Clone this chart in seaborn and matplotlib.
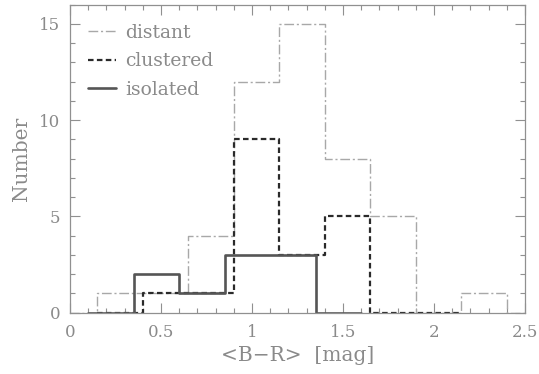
import numpy as np
import pandas as pd
import matplotlib
matplotlib.use("Agg")
import matplotlib.pyplot as plt
import seaborn as sns
from matplotlib.ticker import MultipleLocator
from matplotlib.lines import Line2D

# Data (bin edges and counts)
distant_edges = [-0.10, 0.15, 0.40, 0.65, 0.90, 1.15, 1.40, 1.65, 1.90, 2.15, 2.40, 2.65]
distant_counts = [0, 1, 1, 4, 12, 15, 8, 5, 0, 1, 0]

clustered_edges = [0.15, 0.40, 0.65, 0.90, 1.15, 1.40, 1.65, 1.90, 2.15]
clustered_counts = [0, 1, 1, 9, 3, 5, 0, 0]

isolated_edges = [0.10, 0.35, 0.60, 0.85, 1.10, 1.35, 1.60]
isolated_counts = [0, 2, 1, 3, 3, 0]

labels = ["distant", "clustered", "isolated"]

sns.set_theme(style="white")
plt.rcParams['font.family'] = ['DejaVu Serif']

fig = plt.figure(figsize=(5.39, 3.74), dpi=100)
ax = fig.add_axes([0.1299, 0.164, 0.8442, 0.8234])

grey_text = "#8a8a8a"

series = [
    (distant_edges, distant_counts, dict(color="#a8a8a8", linestyle=(0, (7, 2, 1.5, 2)), linewidth=1.0)),
    (clustered_edges, clustered_counts, dict(color="#2a2a2a", linestyle=(0, (2.5, 1.5)), linewidth=1.6)),
    (isolated_edges, isolated_counts, dict(color="#555555", linestyle="-", linewidth=1.9)),
]

for edges, counts, style in series:
    e = np.asarray(edges, dtype=float)
    centers = (e[:-1] + e[1:]) / 2
    df = pd.DataFrame({"val": centers, "cnt": np.asarray(counts, dtype=float)})
    sns.histplot(data=df, x="val", weights="cnt", bins=list(edges), element="step",
                 fill=False, ax=ax, **style)

ax.set_xlim(0, 2.5)
ax.set_ylim(0, 16)
ax.xaxis.set_major_locator(MultipleLocator(0.5))
ax.xaxis.set_minor_locator(MultipleLocator(0.1))
ax.yaxis.set_major_locator(MultipleLocator(5))
ax.yaxis.set_minor_locator(MultipleLocator(1))
ax.set_xticks([0, 0.5, 1, 1.5, 2, 2.5])
ax.set_xticklabels(["0", "0.5", "1", "1.5", "2", "2.5"])

ax.tick_params(which="both", direction="in", top=True, right=True, bottom=True, left=True,
               colors="#909090", labelcolor=grey_text, labelsize=12, width=0.8)
ax.tick_params(which="major", length=7)
ax.tick_params(which="minor", length=3.5)
ax.tick_params(axis="x", which="both", pad=8)
ax.tick_params(axis="y", which="both", pad=7)
for s in ax.spines.values():
    s.set_color("#909090")
    s.set_linewidth(0.9)

ax.set_xlabel("<B\u2212R>  [mag]", color=grey_text, fontsize=14.5, labelpad=4)
ax.set_ylabel("Number", color=grey_text, fontsize=14.5, labelpad=6)

handles = [Line2D([], [], **st) for _, _, st in series]
leg = ax.legend(handles, labels, loc="upper left", frameon=False, fontsize=13.5,
                handlelength=1.5, handletextpad=0.48, labelspacing=0.56,
                borderaxespad=0.0, bbox_to_anchor=(0.023, 0.963))
for t in leg.get_texts():
    t.set_color(grey_text)

fig.savefig("out.png", dpi=100)
